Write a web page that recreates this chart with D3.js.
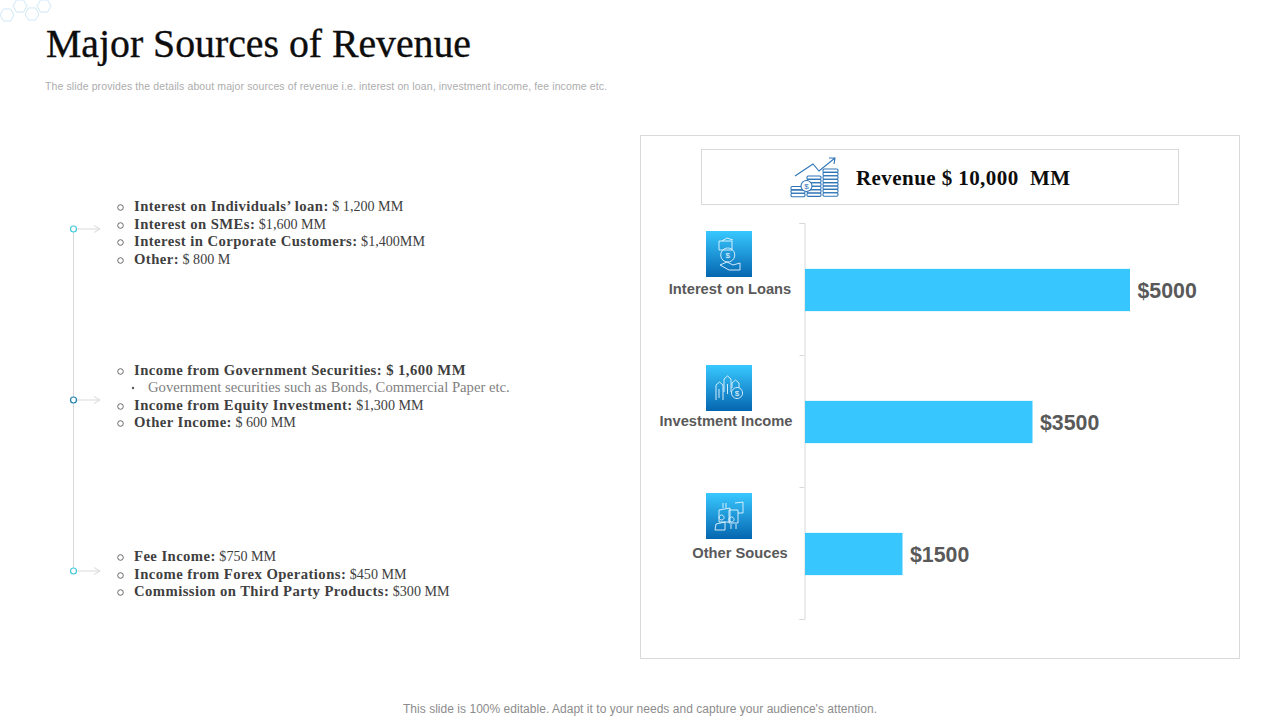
<!DOCTYPE html>
<html>
<head>
<meta charset="utf-8">
<script src="https://cdn.jsdelivr.net/npm/d3@7"></script>
<style>
  html, body { margin: 0; padding: 0; background: #fff; }
  svg { display: block; }
  .serif { font-family: "Liberation Serif", serif; }
  .sans { font-family: "Liberation Sans", Arial, sans-serif; }
</style>
</head>
<body>
<svg id="chart" width="1280" height="720"></svg>
<script>
const categories = ["Interest on Loans", "Investment Income", "Other Souces"];
const revenue = [5000, 3500, 1500];
const valueLabels = ["$5000", "$3500", "$1500"];

// [bold part, regular part]; a single entry is a sub bullet
const loanItems = [
  ["Interest on Individuals’ loan:", " $ 1,200 MM"],
  ["Interest on SMEs:", " $1,600 MM"],
  ["Interest in Corporate Customers:", " $1,400MM"],
  ["Other:", " $ 800 M"]
];
const investmentItems = [
  ["Income from Government Securities: $ 1,600 MM", ""],
  ["Government securities such as Bonds, Commercial Paper etc."],
  ["Income from Equity Investment:", " $1,300 MM"],
  ["Other Income:", " $ 600 MM"]
];
const otherItems = [
  ["Fee Income:", " $750 MM"],
  ["Income from Forex Operations:", " $450 MM"],
  ["Commission on Third Party Products:", " $300 MM"]
];

const svg = d3.select("#chart");
const defs = svg.append("defs");

const grad = defs.append("linearGradient")
  .attr("id", "iconFill").attr("x1", 0).attr("y1", 0).attr("x2", 0).attr("y2", 1);
grad.append("stop").attr("offset", "0%").attr("stop-color", "#38c8ff");
grad.append("stop").attr("offset", "100%").attr("stop-color", "#0566b0");

// title block
svg.append("text").attr("class", "serif")
  .attr("x", 46).attr("y", 57)
  .attr("font-size", 40).attr("fill", "#0d0d0d")
  .attr("stroke", "#0d0d0d").attr("stroke-width", 0.35)
  .attr("textLength", 425).attr("lengthAdjust", "spacingAndGlyphs")
  .text("Major Sources of Revenue");

svg.append("text").attr("class", "sans")
  .attr("x", 45).attr("y", 90)
  .attr("font-size", 10.5).attr("fill", "#adadad")
  .attr("textLength", 562).attr("lengthAdjust", "spacing")
  .text("The slide provides the details about major sources of revenue i.e. interest on loan, investment income, fee income etc.");

svg.append("text").attr("class", "sans")
  .attr("x", 403).attr("y", 713)
  .attr("font-size", 12).attr("fill", "#8c8c8c")
  .attr("textLength", 474).attr("lengthAdjust", "spacing")
  .text("This slide is 100% editable. Adapt it to your needs and capture your audience's attention.");

// hexagons in the corner
const hexLine = d3.line();
[[7, 15], [20, 6], [32, 14], [44, 6]].forEach(([cx, cy]) => {
  const pts = d3.range(6).map(i => {
    const a = Math.PI / 3 * i;
    return [cx + 7 * Math.cos(a), cy + 7 * Math.sin(a)];
  });
  svg.append("path")
    .attr("d", hexLine(pts) + "Z")
    .attr("fill", "none").attr("stroke", "#cfe8f8").attr("stroke-width", 1);
});

// timeline on the left
const timelineY = [229, 400, 571];
const nodeColors = ["#43c7dd", "#1c7fae", "#43c7dd"];
svg.append("line")
  .attr("x1", 73.5).attr("x2", 73.5).attr("y1", timelineY[0]).attr("y2", timelineY[2])
  .attr("stroke", "#d9d9d9");
timelineY.forEach((y, i) => {
  svg.append("line").attr("x1", 76).attr("x2", 100).attr("y1", y).attr("y2", y)
    .attr("stroke", "#d9d9d9");
  svg.append("path")
    .attr("d", `M94,${y - 3.5}L100,${y}L94,${y + 3.5}`)
    .attr("fill", "none").attr("stroke", "#d9d9d9");
  svg.append("circle").attr("cx", 73.5).attr("cy", y).attr("r", 3)
    .attr("fill", "#fff").attr("stroke", nodeColors[i]).attr("stroke-width", 1.2);
});

// bullet text
function drawList(items, rowsY) {
  items.forEach((item, i) => {
    const y = rowsY[i];
    const isSub = item.length === 1;
    if (isSub) {
      svg.append("circle").attr("cx", 133).attr("cy", y + 1).attr("r", 1.2).attr("fill", "#595959");
    } else {
      svg.append("circle").attr("cx", 120.5).attr("cy", y + 1.5).attr("r", 2.8)
        .attr("fill", "none").attr("stroke", "#595959").attr("stroke-width", 0.9);
    }
    const t = svg.append("text").attr("class", "serif")
      .attr("x", isSub ? 148 : 134).attr("y", y + 4.5);
    if (isSub) {
      t.attr("font-size", 14.7).attr("fill", "#7f7f7f").text(item[0]);
    } else {
      t.append("tspan").attr("font-size", 14.7).attr("letter-spacing", 0.43)
        .attr("font-weight", "bold").attr("fill", "#3f3f3f").text(item[0]);
      t.append("tspan").attr("font-size", 14.1).attr("fill", "#404040").text(item[1]);
    }
  });
}
drawList(loanItems, [206, 224, 241, 259]);
drawList(investmentItems, [370, 387, 405, 422]);
drawList(otherItems, [556, 574, 591]);

// right panel
svg.append("rect").attr("x", 640.5).attr("y", 135.5).attr("width", 599).attr("height", 523)
  .attr("fill", "#fff").attr("stroke", "#d9d9d9");
svg.append("rect").attr("x", 701.5).attr("y", 149.5).attr("width", 477).attr("height", 55)
  .attr("fill", "#fff").attr("stroke", "#d9d9d9");
svg.append("text").attr("class", "serif")
  .attr("x", 856).attr("y", 185)
  .style("white-space", "pre")
  .attr("font-size", 21).attr("font-weight", "bold").attr("fill", "#0d0d0d")
  .attr("textLength", 214).attr("lengthAdjust", "spacing")
  .text("Revenue $ 10,000  MM");

// header icon: coin stacks with a rising arrow
const headIcon = svg.append("g")
  .attr("fill", "none").attr("stroke", "#2e75b6").attr("stroke-width", 1.1);
[[791, 186.5, 3, 14], [807, 176, 6, 14], [823, 169, 8, 15]].forEach(([x, y, n, w]) => {
  d3.range(n).forEach(i => {
    headIcon.append("rect").attr("x", x).attr("y", y + i * 3.4)
      .attr("width", w).attr("height", 3.4).attr("rx", 1.2);
  });
});
headIcon.append("circle").attr("cx", 806.5).attr("cy", 186).attr("r", 5.5).attr("fill", "#fff");
headIcon.append("path").attr("d", "M795,176L813,164L819,171L835,158M829,158L835,158L834,164");
svg.append("text").attr("class", "sans").attr("x", 806.5).attr("y", 189)
  .attr("text-anchor", "middle").attr("font-size", 8).attr("fill", "#2e75b6").text("$");

// bar chart
const x = d3.scaleLinear().domain([0, 5000]).range([805, 1130]);
const y = d3.scaleBand().domain(categories).range([224, 620]).paddingInner(0.68).paddingOuter(0.34);

const axisScale = d3.scaleLinear().domain([0, categories.length]).range([223, 619]);
svg.append("g")
  .attr("transform", "translate(804.5,0)")
  .call(d3.axisLeft(axisScale).ticks(categories.length).tickSize(5).tickFormat(""))
  .call(g => g.selectAll("path,line").attr("stroke", "#d9d9d9"));

svg.selectAll("rect.bar")
  .data(revenue)
  .join("rect")
  .attr("class", "bar")
  .attr("x", x(0))
  .attr("y", (d, i) => y(categories[i]))
  .attr("width", d => x(d) - x(0))
  .attr("height", y.bandwidth())
  .attr("fill", "#38c6ff");

svg.selectAll("text.value")
  .data(revenue)
  .join("text")
  .attr("class", "value sans")
  .attr("x", d => x(d) + 7.5)
  .attr("y", (d, i) => y(categories[i]) + y.bandwidth() / 2 + 8)
  .attr("font-size", 21.3).attr("font-weight", "bold").attr("fill", "#595959")
  .text((d, i) => valueLabels[i]);

// category labels and icon tiles
const labelX = [730, 726, 740];
const labelY = [289, 421, 553];
const tileY = [231, 365, 493];
categories.forEach((c, i) => {
  svg.append("text").attr("class", "sans")
    .attr("x", labelX[i]).attr("y", labelY[i] + 5)
    .attr("text-anchor", "middle")
    .attr("font-size", 14.7).attr("font-weight", "bold").attr("fill", "#595959")
    .text(c);
  svg.append("rect").attr("x", 706).attr("y", tileY[i]).attr("width", 46).attr("height", 46)
    .attr("fill", "url(#iconFill)");
});

// white line art on the tiles
const glyphs = [
  ["M719,241L719,250L732,250L732,241Z", "M722,241L727,238L733,240", "M720,265L727,262L733,265L740,263L740,270L729,270Z",
   "M727.7,248a7,7 0 1,0 0.1,0"],
  ["M716,400L716,385L719.5,382L723,385L723,400", "M724,392L724,379L727.5,376L731,379L731,392", "M732,388L732,383L735.5,380L739,383L739,388",
   "M737,387.5a5.5,5.5 0 1,0 0.1,0", "M719,389v9M727.5,384v10"],
  ["M719,510L730,508L730,522L719,522Z", "M729,510L738,510L738,523L729,523Z", "M735,503L743,502L743,513L738,513", "M715,530L716,524L725,522L725,530Z",
   "M721.5,515a2.5,2.5 0 1,0 0.1,0M731.5,517a2.5,2.5 0 1,0 0.1,0M723,503v5M726,503v5M731,524v5M736,524v5"]
];
glyphs.forEach(paths => {
  paths.forEach(d => {
    svg.append("path").attr("d", d).attr("fill", "none")
      .attr("stroke", "#e8f6ff").attr("stroke-width", 0.9);
  });
});
[["$", 727.7, 258], ["$", 737, 396]].forEach(([s, px, py]) => {
  svg.append("text").attr("class", "sans").attr("x", px).attr("y", py)
    .attr("text-anchor", "middle").attr("font-size", 8).attr("fill", "#e8f6ff").text(s);
});
</script>
</body>
</html>
